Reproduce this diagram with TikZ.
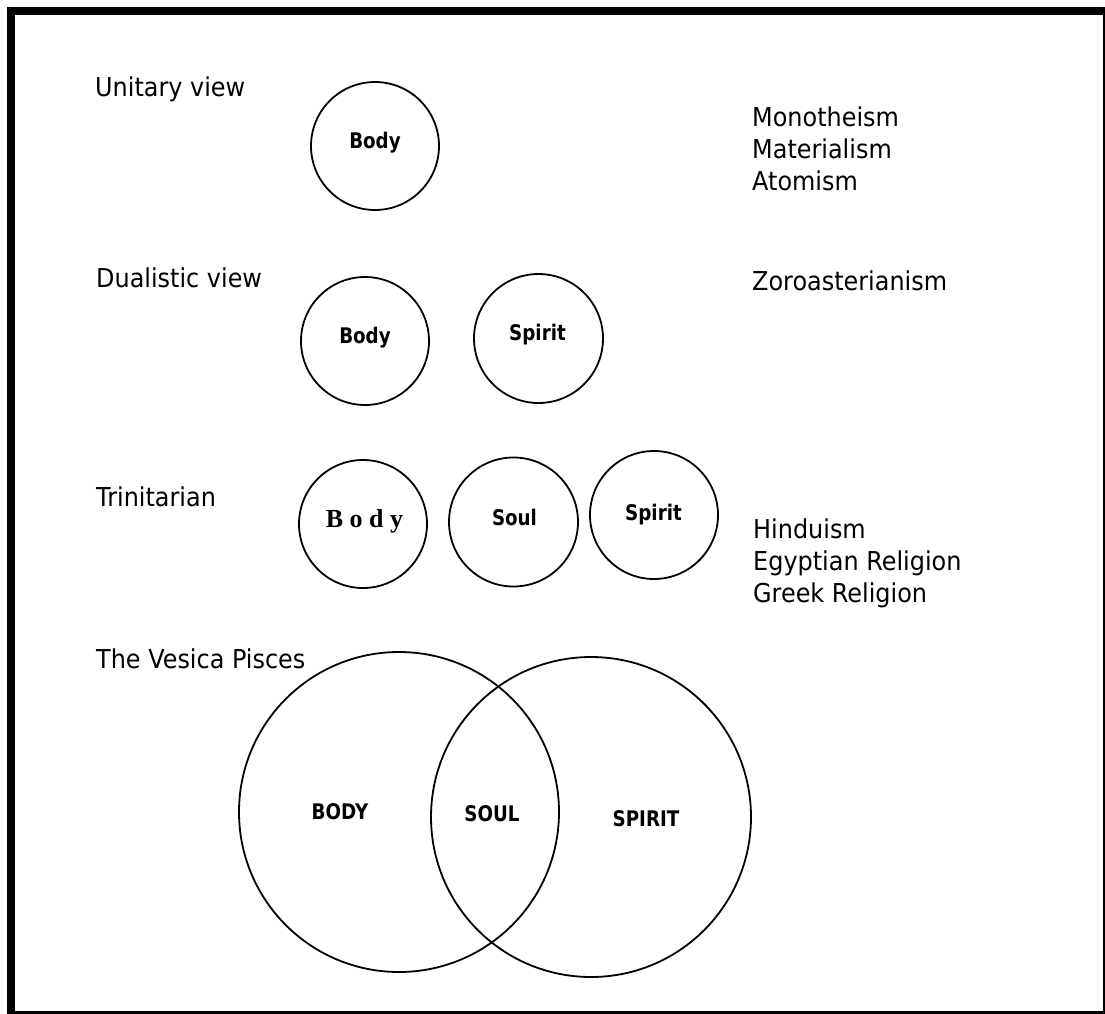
\documentclass[tikz,border=0pt]{standalone}
\usepackage{fontspec}
\setmainfont{DejaVu Sans}[FakeStretch=0.92, BoldFeatures={FakeStretch=0.85}]
\newfontfamily\serifbody{Liberation Serif}
\begin{document}
\begin{tikzpicture}[x=1pt,y=-1pt,
  ring/.style={circle, draw, line width=1.8pt, inner sep=0pt, minimum size=#1},
  heading/.style={anchor=base west, inner sep=0pt, font=\fontsize{26}{30}\selectfont},
  listtext/.style={anchor=base west, inner sep=0pt, font=\fontsize{26}{30}\selectfont},
  ctext/.style={anchor=base, inner sep=0pt, font=\fontsize{21.5}{25}\selectfont\bfseries}]
\useasboundingbox (0,0) rectangle (1105,1014);
\fill[white] (0,0) rectangle (1105,1014);
% frame
\fill[black] (7,7) rectangle (1105,15);
\fill[black] (7,7) rectangle (15,1014);
\fill[black] (1102.5,7) rectangle (1105,1014);
\fill[black] (7,1010.5) rectangle (1105,1014);

% headings
\node[heading] (h1) at (95,97) {Unitary view};
\node[heading] (h2) at (96,287) {Dualistic view};
\node[heading] (h3) at (96,506) {Trinitarian};
\node[heading] (h4) at (96,668) {The Vesica Pisces};

% right column
\node[listtext] (r1) at (752,127) {Monotheism};
\node[listtext] (r2) at (752,158) {Materialism};
\node[listtext] (r3) at (752,190) {Atomism};
\node[listtext] (r4) at (752,290) {Zoroasterianism};
\node[listtext] (r5) at (753,538) {Hinduism};
\node[listtext] (r6) at (753,570) {Egyptian Religion};
\node[listtext] (r7) at (753,602) {Greek Religion};

% unitary
\node[ring=128pt] (u1) at (375,146) {};
\node[ctext] (u1t) at (375,148) {Body};

% dualistic
\node[ring=128pt] (d1) at (365,341) {};
\node[ctext] (d1t) at (365,343) {Body};
\node[ring=129pt] (d2) at (538.5,338.5) {};
\node[ctext] (d2t) at (537.5,340) {Spirit};

% trinitarian
\node[ring=128pt] (t1) at (363,524) {};
\node[anchor=base, inner sep=0pt, font=\serifbody\fontsize{26}{30}\selectfont\bfseries] (t1t) at (364.5,527) {B o d y};
\node[ring=129pt] (t2) at (513.5,522) {};
\node[ctext] (t2t) at (514.5,525) {Soul};
\node[ring=128pt] (t3) at (654,515) {};
\node[ctext] (t3t) at (653.5,520) {Spirit};

% vesica pisces
\node[ring=320pt] (v1) at (399,812) {};
\node[ring=320pt] (v2) at (591,817) {};
\node[ctext] (v1t) at (340,819) {BODY};
\node[ctext] (v0t) at (492,821) {SOUL};
\node[ctext] (v2t) at (646,826) {SPIRIT};
\end{tikzpicture}
\end{document}
